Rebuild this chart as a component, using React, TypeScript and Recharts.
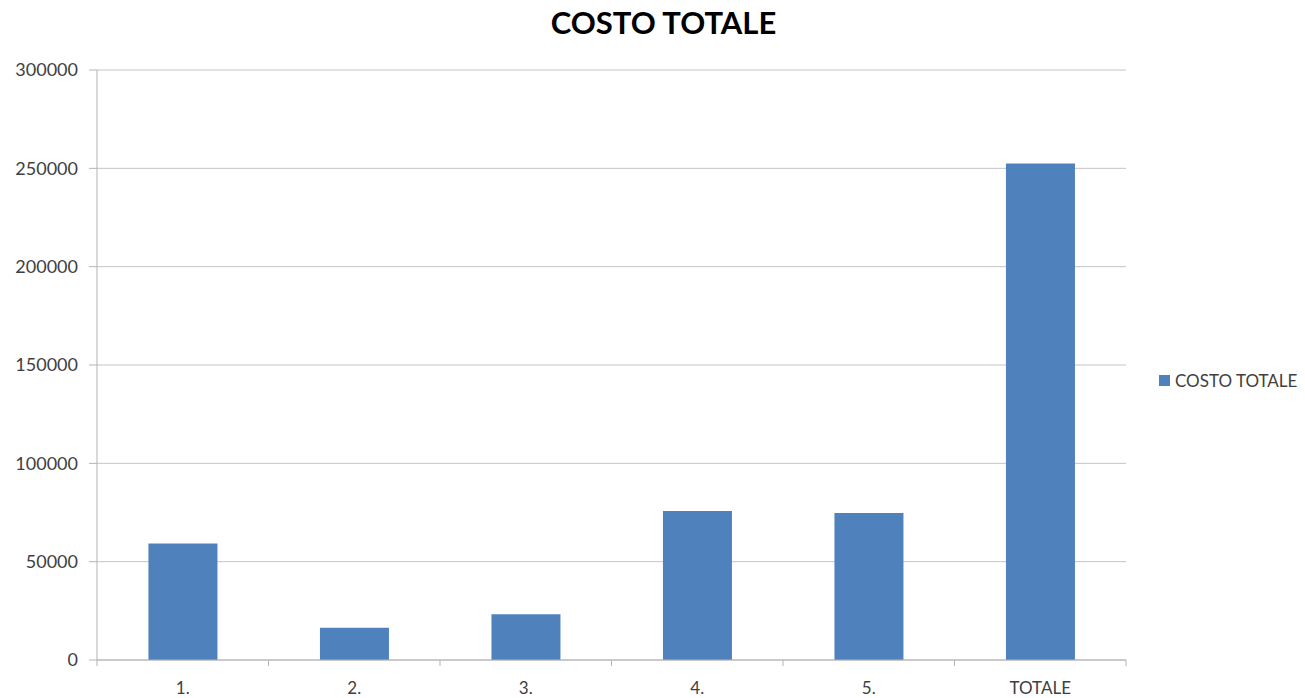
import { BarChart, Bar, XAxis, YAxis, CartesianGrid, Legend } from 'recharts';

const categories = ['1.', '2.', '3.', '4.', '5.', 'TOTALE'];
const costoTotale = [59300, 16400, 23200, 75800, 74700, 252500];
const yTicks = [0, 50000, 100000, 150000, 200000, 250000, 300000];

const SERIES_NAME = 'COSTO TOTALE';
const BAR_COLOR = '#4F81BD';
const TEXT_COLOR = '#404040';
const AXIS_COLOR = '#b3b3b3';
const FONT = 'Lato, "Open Sans", sans-serif';

const X_TICK_SIZE = 6;
const X_TICK_MARGIN = 16;

const data = categories.map((name, i) => ({ name, value: costoTotale[i] }));

// category labels, with the tick marks drawn on the band edges instead of the centres
const CategoryTick = (props: any) => {
    const { x, y, payload, index, visibleTicksCount } = props;
    const half = payload.offset || 0;
    const axisY = y - X_TICK_SIZE - X_TICK_MARGIN;
    const isLast = index === visibleTicksCount - 1;
    return (
        <g>
            <line x1={x - half} x2={x - half} y1={axisY} y2={axisY + X_TICK_SIZE} stroke={AXIS_COLOR} />
            {isLast && (
                <line x1={x + half} x2={x + half} y1={axisY} y2={axisY + X_TICK_SIZE} stroke={AXIS_COLOR} />
            )}
            <text x={x} y={y} dy="0.71em" textAnchor="middle" fill={TEXT_COLOR} fontSize={17} fontFamily={FONT}>
                {payload.value}
            </text>
        </g>
    );
};

const LegendContent = () => (
    <div style={{ display: 'flex', alignItems: 'center', fontFamily: FONT, fontSize: 17, color: TEXT_COLOR }}>
        <span style={{ width: 11, height: 11, background: BAR_COLOR, marginRight: 5, display: 'inline-block' }} />
        <span>{SERIES_NAME}</span>
    </div>
);

export default function App() {
    return (
        <div style={{ position: 'absolute', left: 0, top: 0, width: 1305, height: 698, background: '#fff' }}>
            <div style={{
                position: 'absolute',
                left: 0,
                width: 1327,
                top: 3,
                textAlign: 'center',
                fontFamily: FONT,
                fontWeight: 'bold',
                fontSize: 31,
                color: '#000'
            }}>
                {SERIES_NAME}
            </div>
            <BarChart
                width={1305}
                height={698}
                data={data}
                margin={{ top: 70, right: 179, bottom: 8, left: 0 }}
                barCategoryGap="30%"
            >
                <CartesianGrid vertical={false} stroke="#c4c4c4" />
                <XAxis
                    dataKey="name"
                    height={30}
                    stroke={AXIS_COLOR}
                    tickLine={false}
                    tickSize={X_TICK_SIZE}
                    tickMargin={X_TICK_MARGIN}
                    tick={<CategoryTick />}
                    interval={0}
                />
                <YAxis
                    width={97}
                    domain={[0, 300000]}
                    ticks={yTicks}
                    interval={0}
                    stroke={AXIS_COLOR}
                    tickSize={8}
                    tickMargin={11}
                    tick={{ fill: TEXT_COLOR, fontSize: 18, fontFamily: FONT }}
                />
                <Legend
                    layout="horizontal"
                    verticalAlign="middle"
                    align="center"
                    content={<LegendContent />}
                    wrapperStyle={{ left: 1159, top: 370, width: 146 }}
                />
                <Bar dataKey="value" name={SERIES_NAME} fill={BAR_COLOR} isAnimationActive={false} />
            </BarChart>
        </div>
    );
}
